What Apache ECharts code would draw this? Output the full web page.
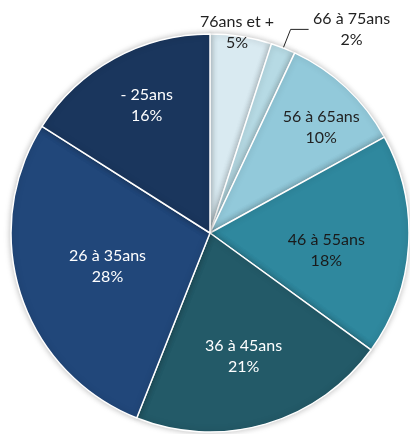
<!DOCTYPE html>
<html>
<head>
<meta charset="utf-8">
<script src="https://cdn.jsdelivr.net/npm/echarts@6/dist/echarts.min.js"></script>
<style>
  html, body { margin: 0; padding: 0; background: #fff; }
  #chart { width: 410px; height: 434px; }
</style>
</head>
<body>
<div id="chart"></div>
<script>
const categories = ['76ans et +', '66 à 75ans', '56 à 65ans', '46 à 55ans', '36 à 45ans', '26 à 35ans', '- 25ans'];
const values = [5, 2, 10, 18, 21, 28, 16];

const colors = ['#d9eaf1', '#b6dae4', '#92c9da', '#2f889e', '#235a68', '#21477a', '#1a365d'];
const textColors = ['#222', '#222', '#222', '#1a1a1a', '#fff', '#fff', '#fff'];
// nudge of each inside label away from its default spot at half radius
const labelNudge = [[11, -99], [0, 0], [41, -31], [14, 11], [5, 25], [-5, 2], [-14, -38]];

const chart = echarts.init(document.getElementById('chart'));

const data = categories.map((name, i) => {
  const item = {
    name: name,
    value: values[i],
    itemStyle: { color: colors[i] },
    label: { color: textColors[i] }
  };
  if (i === 1) {
    // the small slice gets its label outside with a leader line
    item.label.position = 'outside';
    item.label.formatter = p => '{c|' + p.name + '}\n{c|' + p.value + '%}';
    item.label.rich = { c: { width: 76, align: 'center', fontSize: 16, lineHeight: 21, color: '#222', fontFamily: 'Lato' } };
    item.labelLine = { show: true, length: 20, length2: 18, lineStyle: { color: '#222', width: 1 } };
  }
  return item;
});

chart.setOption({
  animation: false,
  textStyle: { fontFamily: 'Lato' },
  series: [{
    type: 'pie',
    center: [210, 233],
    radius: [0, 199],
    startAngle: 90,
    clockwise: true,
    data: data,
    itemStyle: {
      borderColor: '#fff',
      borderWidth: 1.5,
      shadowBlur: 6,
      shadowColor: 'rgba(0,0,0,0.25)'
    },
    label: {
      show: true,
      position: 'inside',
      fontSize: 16,
      lineHeight: 21,
      formatter: p => p.name + '\n' + p.value + '%'
    },
    labelLine: { show: false },
    labelLayout: params => {
      const n = labelNudge[params.dataIndex];
      return { dx: n[0], dy: n[1] };
    }
  }]
});
</script>
</body>
</html>
